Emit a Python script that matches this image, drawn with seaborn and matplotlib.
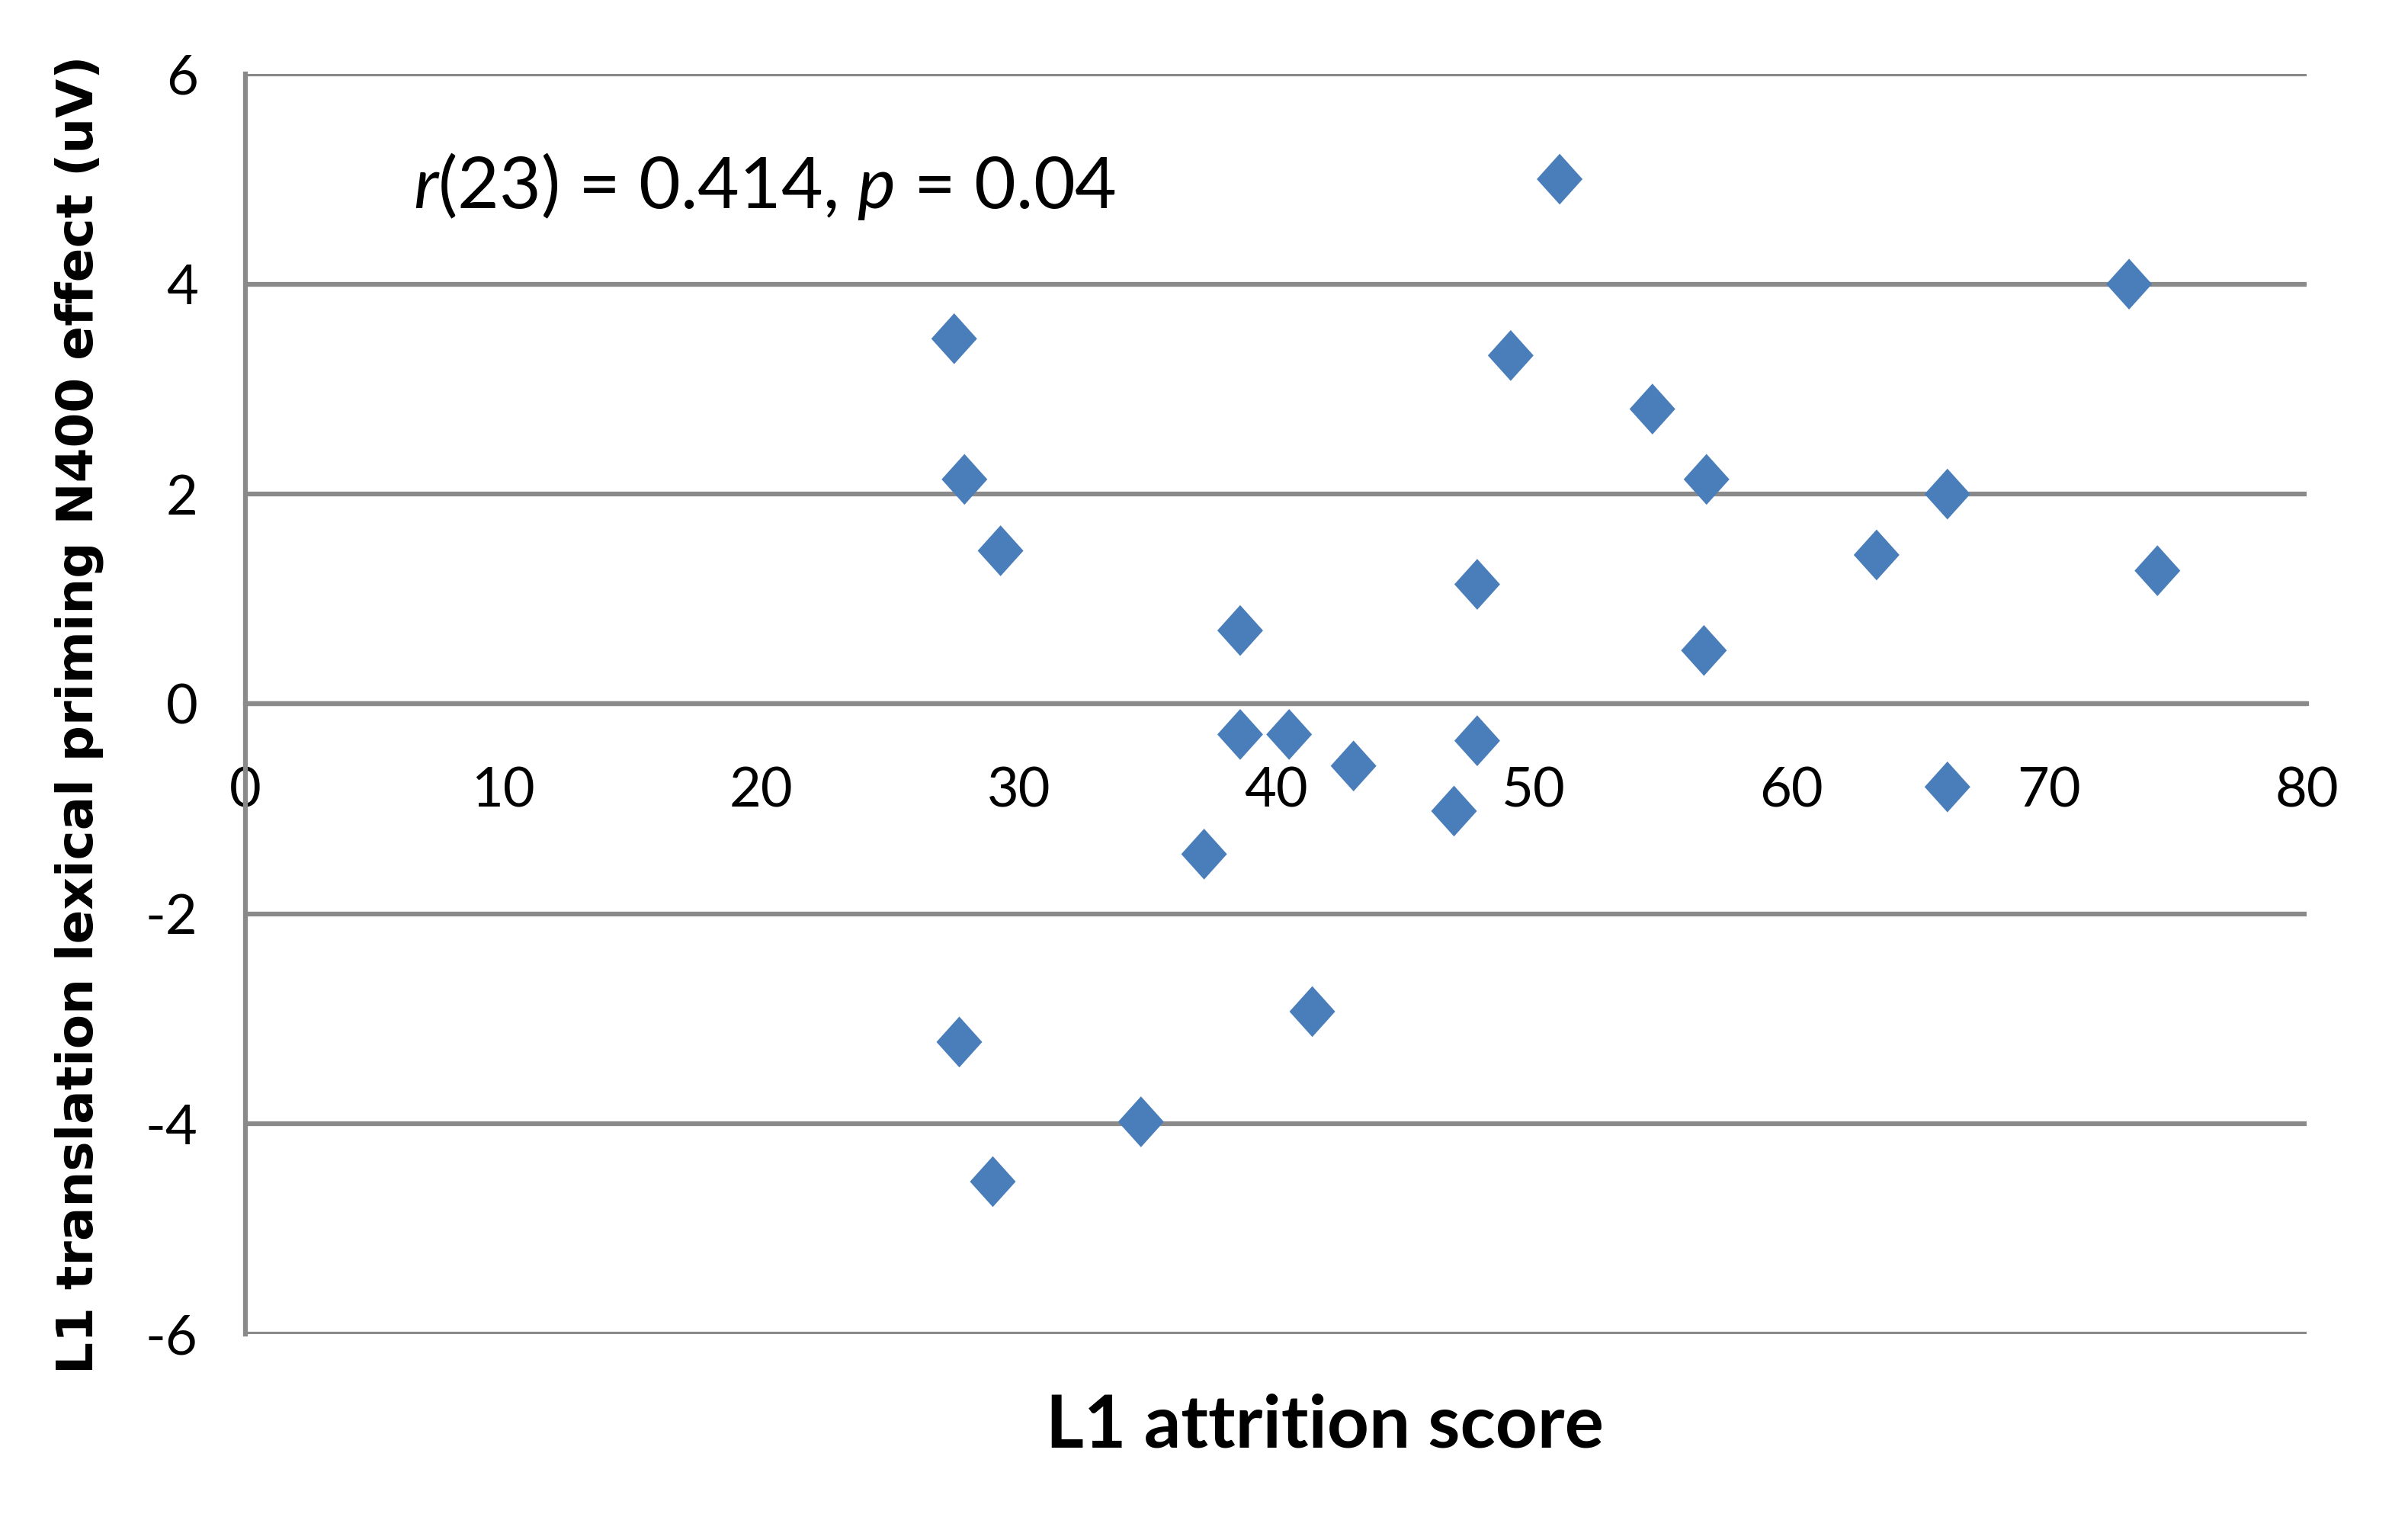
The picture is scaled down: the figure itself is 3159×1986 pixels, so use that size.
import matplotlib
matplotlib.use("Agg")
import matplotlib.pyplot as plt
import seaborn as sns
import pandas as pd
from matplotlib.path import Path

# Data
attrition_score = [27.5, 27.9, 29.3, 51.0, 49.1, 54.6, 56.7, 73.1, 66.05, 63.3,
                   74.2, 47.8, 38.6, 56.6, 38.6, 40.5, 43.0, 47.8, 46.9, 66.05,
                   37.2, 41.4, 27.7, 34.75, 29.0]
n400_effect = [3.48, 2.14, 1.46, 5.0, 3.32, 2.81, 2.14, 4.0, 2.0, 1.42,
               1.27, 1.14, 0.70, 0.51, -0.29, -0.29, -0.59, -0.35, -1.02, -0.79,
               -1.43, -2.93, -3.22, -3.98, -4.55]
x_ticks = [0, 10, 20, 30, 40, 50, 60, 70, 80]
y_ticks = [-6, -4, -2, 0, 2, 4, 6]

df = pd.DataFrame({"score": attrition_score, "effect": n400_effect})

sns.set_theme(style="white")
plt.rcParams["font.family"] = ["Lato", "DejaVu Sans"]
plt.rcParams["mathtext.fontset"] = "custom"
plt.rcParams["mathtext.rm"] = "Lato"
plt.rcParams["mathtext.it"] = "Lato:italic"

GRID = "#8a8a8a"
BLUE = "#4a7ebb"

fig = plt.figure(figsize=(31.59, 19.86), dpi=100)
ax = fig.add_axes([0.102, 0.119, 0.856, 0.832])

diamond = Path([(0, 0.5), (0.45, 0), (0, -0.5), (-0.45, 0), (0, 0.5)],
               [Path.MOVETO, Path.LINETO, Path.LINETO, Path.LINETO, Path.CLOSEPOLY])

sns.scatterplot(data=df, x="score", y="effect", ax=ax, marker=diamond,
                s=48 ** 2, color=BLUE, edgecolor="none", zorder=5, clip_on=False)

ax.set_xlim(0, 80)
ax.set_ylim(-6, 6)
ax.set_xticks(x_ticks)
ax.set_yticks(y_ticks)
ax.set_xticklabels([str(v) for v in x_ticks])
ax.set_yticklabels([str(v) for v in y_ticks])

for y in y_ticks:
    ax.axhline(y, color=GRID, lw=4.5, zorder=1)

for s in ["top", "right"]:
    ax.spines[s].set_visible(False)
ax.spines["bottom"].set_position(("data", 0))
ax.spines["bottom"].set_color(GRID)
ax.spines["bottom"].set_linewidth(4.5)
ax.spines["left"].set_color(GRID)
ax.spines["left"].set_linewidth(4.5)

ax.tick_params(axis="x", direction="out", length=17, width=3, color=GRID,
               labelsize=52, pad=42, labelcolor="black")
ax.tick_params(axis="y", direction="out", length=15, width=3, color=GRID,
               labelsize=52, pad=30, labelcolor="black")

ax.set_xlabel("")
ax.set_ylabel("")

ax.text(6.5, 4.93, r"$r$(23) = 0.414, $p$ = 0.04", fontsize=68,
        ha="left", va="center", color="black")

fig.text(0.033, 0.528, "L1 translation lexical priming N400 effect (uV)",
         rotation=90, ha="center", va="center", fontsize=47.5,
         fontweight="bold", family=["DejaVu Sans"], color="black")
fig.text(0.55, 0.058, "L1 attrition score", ha="center", va="center",
         fontsize=69, fontweight="bold", color="black")

fig.savefig("out.png", dpi=100, facecolor="white")
